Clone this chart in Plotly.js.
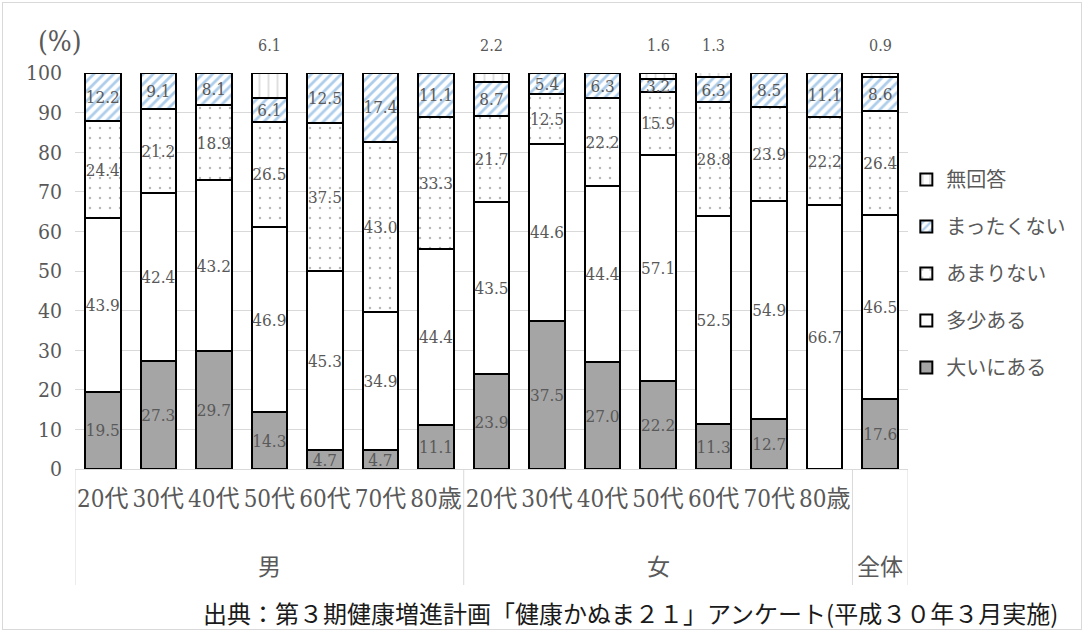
<!DOCTYPE html>
<html><head><meta charset="utf-8">
<script src="https://cdn.plot.ly/plotly-3.0.1.min.js"></script>
<style>
html,body{margin:0;padding:0;background:#fff;}
#wrap{position:relative;width:1084px;height:632px;}
#chart{width:1084px;height:632px;}
#frame{position:absolute;left:2px;top:2px;right:2px;bottom:2px;border:1px solid #d9d9d9;pointer-events:none;}
</style></head>
<body><div id="wrap"><div id="chart"></div><div id="frame"></div></div>
<script>
const groupNames = ["男","女","全体"];
const groups = ["男","男","男","男","男","男","男","女","女","女","女","女","女","女","全体"];
const ages = ["20代","30代","40代","50代","60代","70代","80歳","20代","30代","40代","50代","60代","70代","80歳",""];
const seriesNames = ["大いにある","多少ある","あまりない","まったくない","無回答"];
const ooini   = [19.5,27.3,29.7,14.3,4.7,4.7,11.1,23.9,37.5,27.0,22.2,11.3,12.7,0,17.6];
const tashou  = [43.9,42.4,43.2,46.9,45.3,34.9,44.4,43.5,44.6,44.4,57.1,52.5,54.9,66.7,46.5];
const amari   = [24.4,21.2,18.9,26.5,37.5,43.0,33.3,21.7,12.5,22.2,15.9,28.8,23.9,22.2,26.4];
const mattaku = [12.2,9.1,8.1,6.1,12.5,17.4,11.1,8.7,5.4,6.3,3.2,6.3,8.5,11.1,8.6];
const mukaitou= [0,0,0,6.1,0,0,0,2.2,0,0,1.6,1.3,0,0,0.9];
const yTicks = [0,10,20,30,40,50,60,70,80,90,100];

const FONT = '"DejaVu Serif Condensed", "DejaVu Serif", "Noto Sans CJK JP", serif';
const GRAY = '#595959';
const xIdx = ages.map((_, i) => i);
const lab = v => v.map(d => d > 0 ? d.toFixed(1) : '');

const styles = [
  {color:'#a5a5a5', pattern:{shape:''}},
  {color:'#ffffff', pattern:{shape:''}},
  {color:'#ffffff', pattern:{shape:'.', fgcolor:'#6f6f6f', bgcolor:'#ffffff', size:10, solidity:0.05, fillmode:'overlay'}},
  {color:'#ffffff', pattern:{shape:'/', fgcolor:'#5b9bd5', bgcolor:'#ffffff', size:7, solidity:0.4, fillmode:'overlay'}},
  {color:'#ffffff', pattern:{shape:'|', fgcolor:'#bfbfbf', bgcolor:'#ffffff', size:9, solidity:0.22, fillmode:'overlay'}}
];
const vals = [ooini, tashou, amari, mattaku, mukaitou];

const traces = vals.map((v,i) => ({
  type:'bar', name:seriesNames[i], x:xIdx, y:v,
  legendgroup:'g'+i, legendrank: 5 - i,
  text: i===4 ? undefined : lab(v),
  textposition: i===4 ? 'none' : 'inside',
  insidetextanchor:'middle',
  constraintext:'none',
  textangle:0,
  textfont:{family:FONT, size:17, color:GRAY},
  marker:{color:styles[i].color, pattern:styles[i].pattern, line:{color:'#000', width:2}},
  hoverinfo:'skip'
}));

const annotations = [];
mukaitou.forEach((v,i) => {
  if (v > 0) annotations.push({x:i, y:100, xref:'x', yref:'y', yshift:28, text:v.toFixed(1), showarrow:false,
    font:{family:FONT, size:16, color:GRAY}});
});
// group labels centred under their categories
groupNames.forEach(g => {
  const idx = groups.map((gg,i) => gg===g ? i : -1).filter(i => i >= 0);
  const c = (idx[0] + idx[idx.length-1]) / 2;
  annotations.push({x:c, y:-(567-469)/396, xref:'x', yref:'paper', yanchor:'middle', text:g, showarrow:false,
    font:{family:FONT, size:23, color:GRAY}});
});
annotations.push({x:(60-75)/833, y:1.0, xref:'paper', yref:'paper', yshift:32, xanchor:'center', yanchor:'middle', text:'(%)', showarrow:false,
  font:{family:FONT, size:28, color:GRAY}});
annotations.push({x:(1060-75)/833, y:-(612-469)/396, xref:'paper', yref:'paper', xanchor:'right', yanchor:'middle',
  text:'出典：第３期健康増進計画「健康かぬま２１」アンケート(平成３０年３月実施)', showarrow:false,
  font:{family:'Noto Sans CJK JP, sans-serif', size:24, color:'#1a1a1a'}});

// dividers at group boundaries
const bounds = [-0.5];
groups.forEach((g,i) => { if (i === groups.length-1 || groups[i+1] !== g) bounds.push(i + 0.5); });
const shapes = bounds.map(b => ({type:'line', xref:'x', yref:'paper', x0:b, x1:b, y0:0, y1:-(585-469)/396,
  line:{color:'#d9d9d9', width:1}}));

const layout = {
  width:1084, height:632,
  margin:{l:75, r:176, t:73, b:163},
  paper_bgcolor:'#fff', plot_bgcolor:'#fff',
  barmode:'stack', bargap:0.36,
  font:{family:FONT, color:GRAY},
  showlegend:true,
  legend:{x:0.998, y:0.78, xanchor:'left', yanchor:'top', traceorder:'grouped', tracegroupgap:18,
    font:{family:FONT, size:20, color:GRAY}, bgcolor:'rgba(0,0,0,0)'},
  xaxis:{range:[-0.5, 14.5], tickvals:xIdx, ticktext:ages, tickfont:{family:FONT, size:24, color:GRAY}, tickangle:0,
    showline:true, linecolor:'#d9d9d9', ticks:'', showgrid:false, zeroline:false, ticklabelstandoff:8},
  yaxis:{range:[0,100], tickvals:yTicks, ticktext:yTicks.map(String), tickfont:{family:FONT, size:21, color:GRAY},
    showgrid:true, gridcolor:'#d9d9d9', gridwidth:1, zeroline:false, ticks:'', ticklabelstandoff:12, showline:false},
  annotations:annotations,
  shapes:shapes
};
Plotly.newPlot('chart', traces, layout, {displayModeBar:false, staticPlot:true});
</script></body></html>
